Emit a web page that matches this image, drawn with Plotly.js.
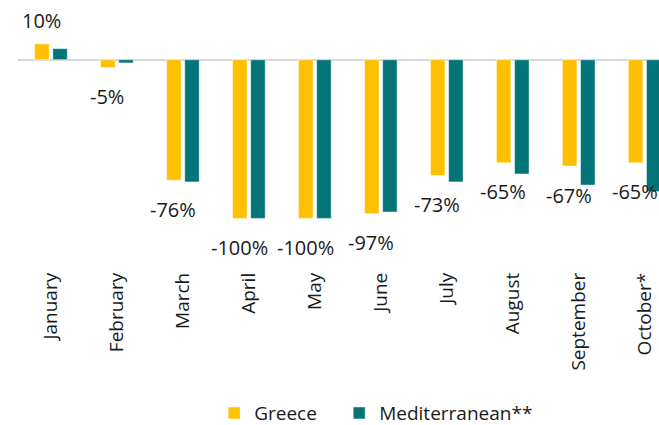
<!DOCTYPE html>
<html>
<head>
<meta charset="utf-8">
<script src="https://cdn.plot.ly/plotly-3.0.1.min.js"></script>
<style>
html,body{margin:0;padding:0;overflow:hidden;background:#fff;}
#chart{width:659px;height:425px;}
</style>
</head>
<body>
<div id="chart"></div>
<script>
const months = ["January","February","March","April","May","June","July","August","September","October*"];
const greece = [10, -5, -76, -100, -100, -97, -73, -65, -67, -65];
const mediterranean = [7, -2, -77, -100, -100, -96, -77, -72, -79, -83];
const greeceLabels = ["10%","-5%","-76%","-100%","-100%","-97%","-73%","-65%","-67%","-65%"];

const traces = [
  {type:'bar', name:'Greece', legend:'legend', x:months, y:greece, marker:{color:'#FFC000', line:{color:'#ffffff', width:0.5}}, hoverinfo:'skip'},
  {type:'bar', name:'Mediterranean**', legend:'legend2', x:months, y:mediterranean, marker:{color:'#037579', line:{color:'#ffffff', width:0.5}}, hoverinfo:'skip'}
];

const annotations = months.map((m, i) => ({
  x: i, xref:'x', y: greece[i], yref:'y',
  xshift: -9.5,
  yshift: greece[i] >= 0 ? 23 : -29,
  text: greeceLabels[i], showarrow:false,
  font:{family:'Open Sans, sans-serif', size:20, color:'#1a1a1a'}
}));

const legendFont = {family:'Open Sans, sans-serif', size:19, color:'#1a1a1a'};

const layout = {
  width:659, height:425,
  margin:{l:18, r:0, t:28, b:159},
  paper_bgcolor:'#fff', plot_bgcolor:'#fff',
  barmode:'group', bargap:0.45, bargroupgap:0.2,
  showlegend:true,
  legend:{orientation:'h', xref:'container', x:0.325, xanchor:'left',
          yref:'container', y:0.028, yanchor:'middle', font:legendFont, itemwidth:30},
  legend2:{orientation:'h', xref:'container', x:0.5147, xanchor:'left',
          yref:'container', y:0.028, yanchor:'middle', font:legendFont, itemwidth:30},
  xaxis:{type:'category', range:[-0.5, 9.217], showline:false, showgrid:false, ticks:'',
         automargin:false,
         tickangle:-90, tickfont:{family:'Open Sans, sans-serif', size:19, color:'#1a1a1a'},
         ticklabelstandoff:2},
  yaxis:{range:[-130, 20], showgrid:false, showticklabels:false, ticks:'', showline:false,
         automargin:false,
         zeroline:true, zerolinecolor:'#d9d9d9', zerolinewidth:2},
  annotations: annotations
};

Plotly.newPlot('chart', traces, layout, {displayModeBar:false, staticPlot:true});
</script>
</body>
</html>
